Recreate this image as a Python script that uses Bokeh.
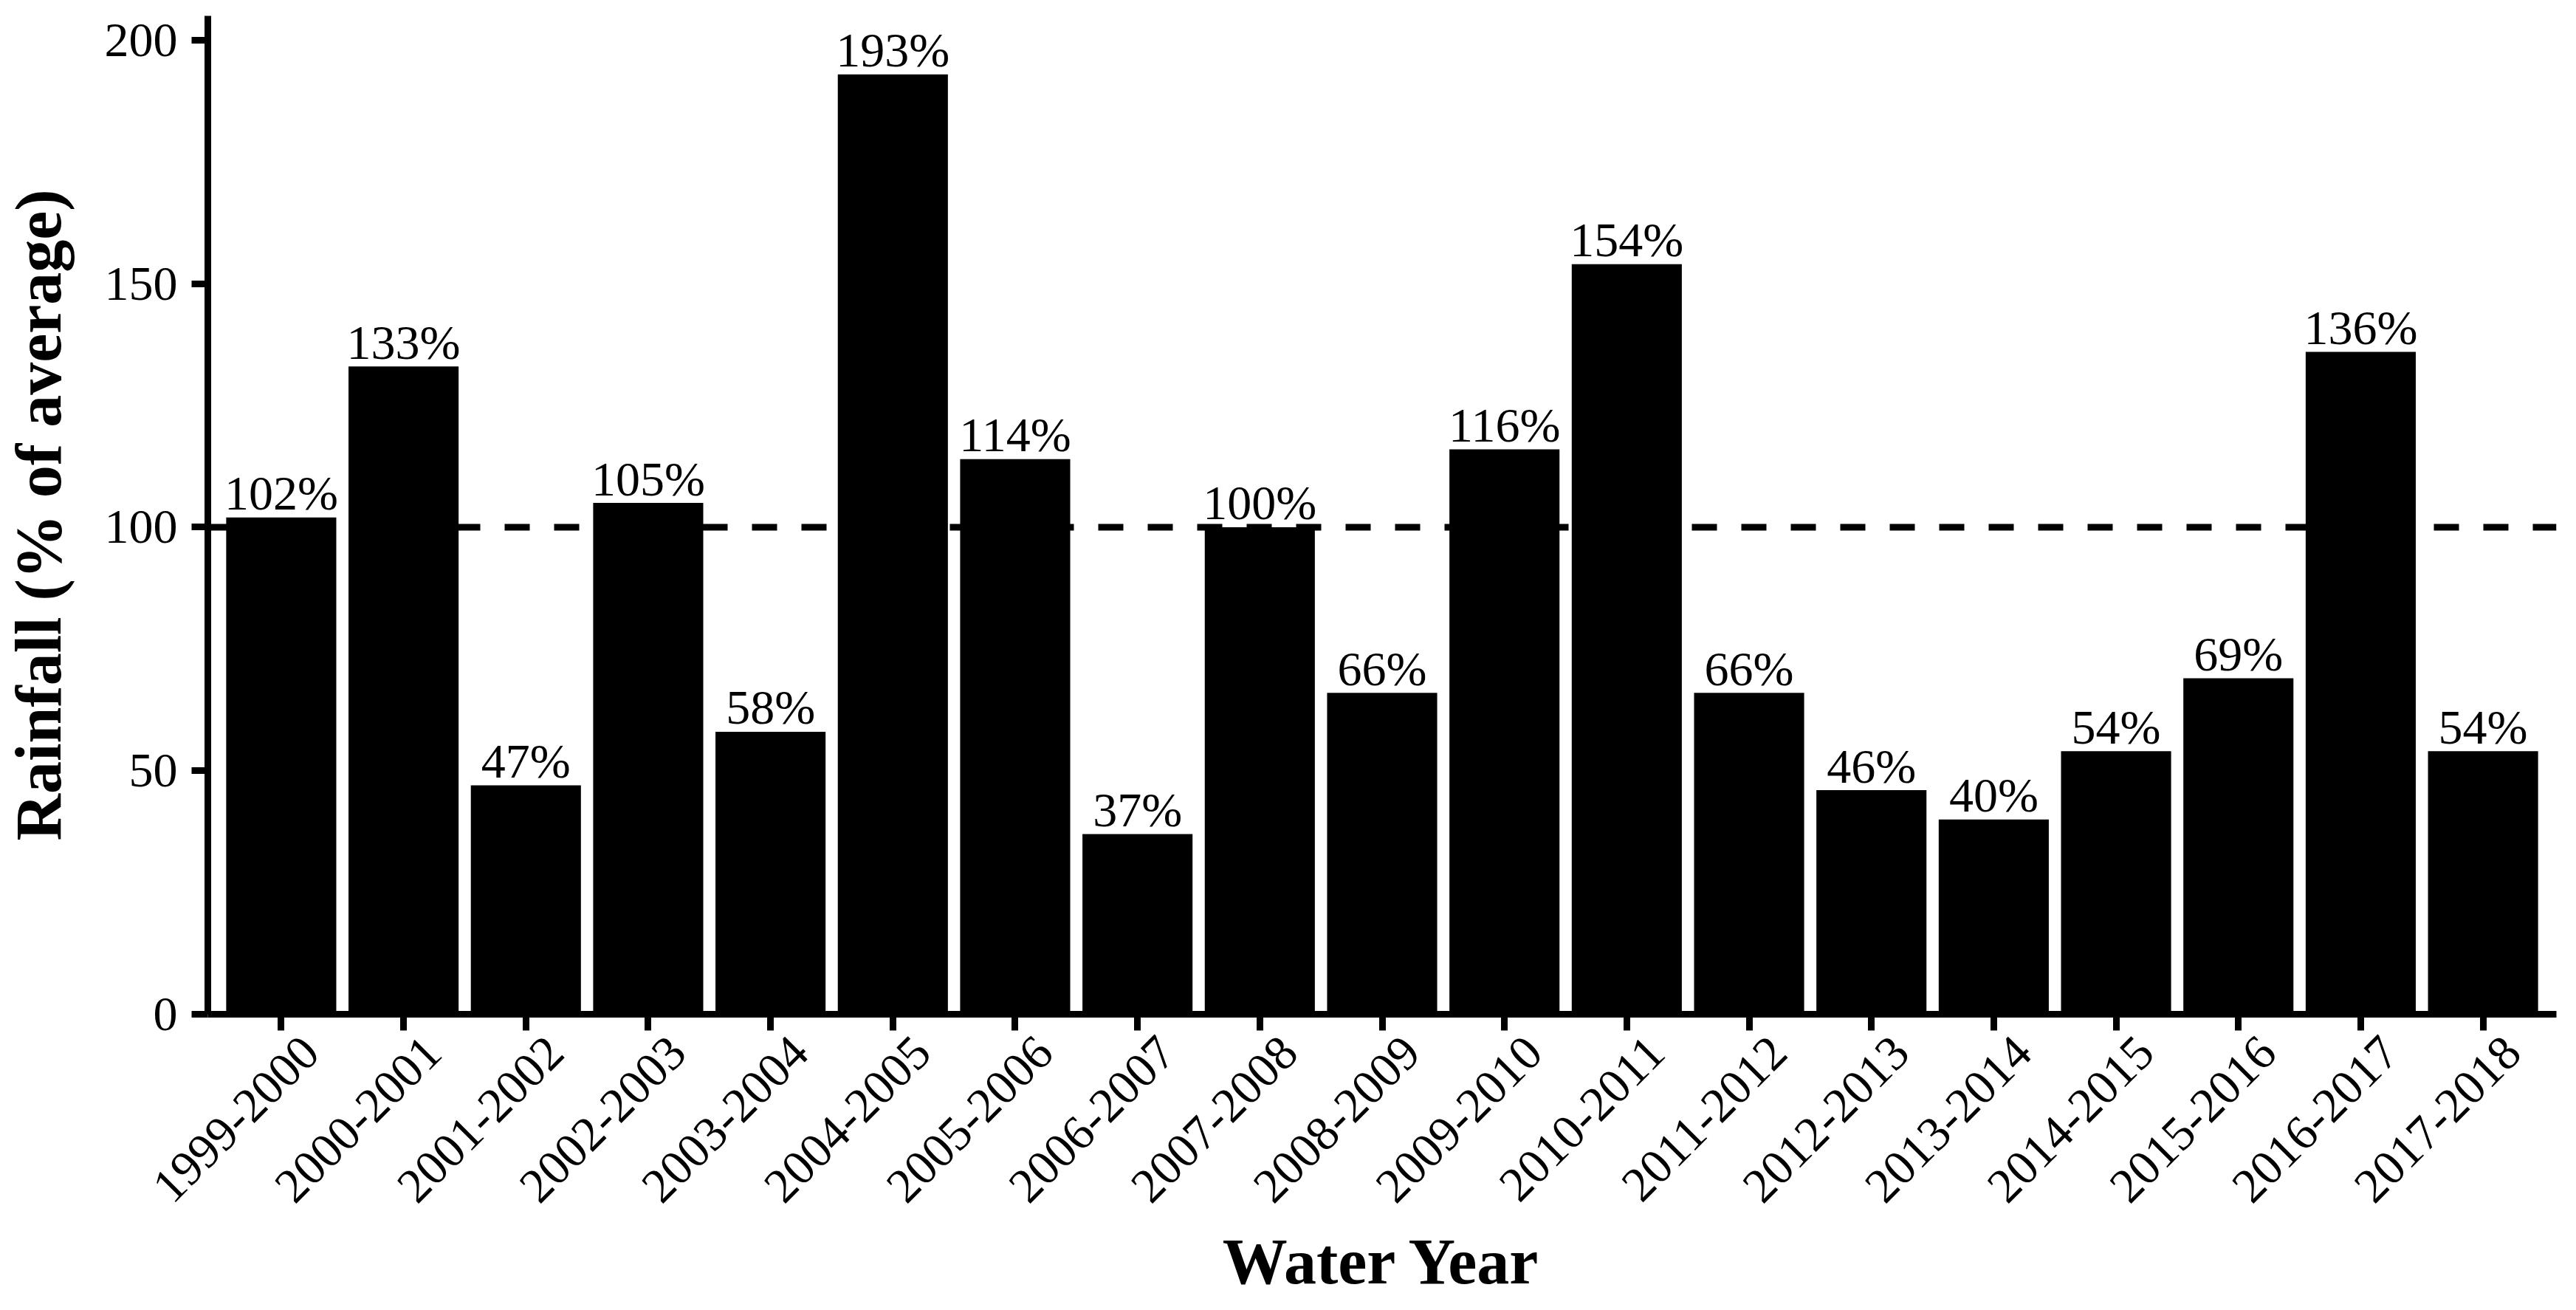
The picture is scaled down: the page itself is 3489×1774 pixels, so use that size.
from bokeh.plotting import figure
from bokeh.models import (Range1d, FixedTicker, Span, ColumnDataSource, LinearAxis)
from bokeh.embed import file_html
from bokeh.resources import INLINE
from bokeh.core.properties import value
import math

# ---- data ----
water_years = ["1999-2000", "2000-2001", "2001-2002", "2002-2003", "2003-2004",
               "2004-2005", "2005-2006", "2006-2007", "2007-2008", "2008-2009",
               "2009-2010", "2010-2011", "2011-2012", "2012-2013", "2013-2014",
               "2014-2015", "2015-2016", "2016-2017", "2017-2018"]
rainfall_pct = [102, 133, 47, 105, 58, 193, 114, 37, 100, 66,
                116, 154, 66, 46, 40, 54, 69, 136, 54]
bar_labels = [f"{v}%" for v in rainfall_pct]
y_ticks = [0, 50, 100, 150, 200]
average_line = 100

FONT = "Liberation Serif"
PAD = 0.6            # space (in bar slots) left and right of the bars
LABEL_SHIFT = 0.24   # tick labels sit slightly right of their ticks (in bar slots)

n = len(water_years)
slot = list(range(n))   # position of each water year on the x scale
src = ColumnDataSource(dict(x=slot, year=water_years, top=rainfall_pct, label=bar_labels))

p = figure(
    x_range=Range1d(-PAD, n - 1 + PAD),
    y_range=Range1d(0, 205),
    frame_width=3181, frame_height=1352,
    min_border_left=269, min_border_right=24, min_border_top=21, min_border_bottom=385,
    output_backend="svg", toolbar_location=None,
    y_axis_label="Rainfall (% of average)",
)
# twin of the x scale, used only to place the rotated year labels
p.extra_x_ranges = {"labels": Range1d(-PAD - LABEL_SHIFT, n - 1 + PAD - LABEL_SHIFT)}

p.vbar(x="x", top="top", bottom=0, width=0.9, source=src,
       fill_color="black", line_color=None)

p.add_layout(Span(location=average_line, dimension="width", line_color="black",
                  line_width=9, line_dash="34 33"))

p.text(x="x", y="top", text="label", source=src,
       text_align="center", text_baseline="alphabetic", y_offset=-33,
       text_font=value(FONT), text_font_size="66px", text_color="black")

p.grid.visible = False
p.outline_line_color = None
p.background_fill_color = "white"
p.border_fill_color = "white"

for ax in (p.xaxis[0], p.yaxis[0]):
    ax.axis_line_width = 9
    ax.axis_line_color = "black"
    ax.major_tick_line_width = 9
    ax.major_tick_line_color = "black"
    ax.major_tick_out = 22
    ax.major_tick_in = 0
    ax.minor_tick_line_color = None
    ax.major_label_text_font = FONT
    ax.major_label_text_font_size = "66px"
    ax.major_label_text_color = "black"
    ax.axis_label_text_font = FONT
    ax.axis_label_text_font_size = "88px"
    ax.axis_label_text_font_style = "bold"
    ax.axis_label_text_color = "black"

p.yaxis.ticker = FixedTicker(ticks=y_ticks)
p.yaxis.major_label_standoff = 19
p.yaxis.axis_label_standoff = 38

# x axis: line and ticks only
p.xaxis.ticker = FixedTicker(ticks=slot)
p.xaxis.major_label_overrides = {i: "" for i in slot}
p.xaxis.major_label_text_font_size = "1px"
p.xaxis.major_label_standoff = 0

# label axis: rotated year labels + title
lab_ax = LinearAxis(x_range_name="labels", axis_label="Water Year",
                    ticker=FixedTicker(ticks=slot),
                    major_label_overrides={i: wy for i, wy in zip(slot, water_years)})
lab_ax.axis_line_color = None
lab_ax.major_tick_line_color = None
lab_ax.minor_tick_line_color = None
lab_ax.major_tick_out = 0
lab_ax.major_tick_in = 0
lab_ax.major_label_orientation = math.pi / 4
lab_ax.major_label_standoff = 19
lab_ax.major_label_text_font = FONT
lab_ax.major_label_text_font_size = "66px"
lab_ax.major_label_text_color = "black"
lab_ax.axis_label_text_font = FONT
lab_ax.axis_label_text_font_size = "88px"
lab_ax.axis_label_text_font_style = "bold"
lab_ax.axis_label_text_color = "black"
lab_ax.axis_label_standoff = 10
p.add_layout(lab_ax, "below")

open("out.html", "w").write(file_html(p, INLINE))
